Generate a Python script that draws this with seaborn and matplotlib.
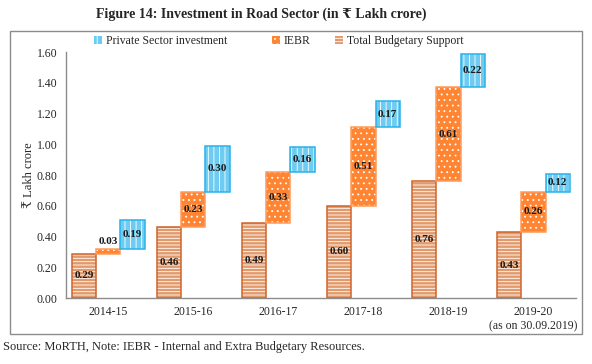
import numpy as np
import matplotlib
matplotlib.use("Agg")
import matplotlib.pyplot as plt
from matplotlib.patches import Patch, Rectangle
import seaborn as sns

years = ["2014-15", "2015-16", "2016-17", "2017-18", "2018-19", "2019-20\n(as on 30.09.2019)"]
tbs = [0.29, 0.46, 0.49, 0.60, 0.76, 0.43]
iebr = [0.03, 0.23, 0.33, 0.51, 0.61, 0.26]
private = [0.19, 0.30, 0.16, 0.17, 0.22, 0.12]
yticks = [0.0, 0.2, 0.4, 0.6, 0.8, 1.0, 1.2, 1.4, 1.6]

sns.set_style("white")
plt.rcParams["font.family"] = ["Liberation Serif", "DejaVu Serif", "DejaVu Sans"]
plt.rcParams["hatch.linewidth"] = 0.6

fig = plt.figure(figsize=(5.92, 3.64), dpi=100)
ax = fig.add_axes([0.111, 0.181, 0.862, 0.676])

tbs = np.array(tbs)
iebr = np.array(iebr)
private = np.array(private)
pos = np.arange(len(years))
w = 0.285

# (heights, bottoms, offset, fill, edge, hatch)
series = [
    (tbs, np.zeros(len(tbs)), -w, "#E29A6C", "#D0642A", "-----"),
    (iebr, tbs, 0.0, "#FF8533", "#FF9A5A", "..."),
    (private, tbs + iebr, w, "#6ECCF2", "#29B2EA", "|||"),
]

for h, b, off, fc, ec, hatch in series:
    # filled bars with white hatch, then a coloured outline on top
    sns.barplot(x=pos + off, y=h, bottom=b, native_scale=True, width=w,
                color=fc, saturation=1, edgecolor="white", linewidth=0,
                hatch=hatch, ax=ax)
    sns.barplot(x=pos + off, y=h, bottom=b, native_scale=True, width=w,
                color=ec, saturation=1, fill=False, linewidth=1.1, ax=ax)
    for x, hh, bb in zip(pos + off, h, b):
        if hh < 0.06:
            ty = bb + hh + 0.045
        else:
            ty = bb + hh / 2
        ax.text(x, ty, f"{hh:.2f}", ha="center", va="center",
                fontsize=8, fontweight="bold", color="#1a1a1a")

ax.set_xlim(-0.5, len(years) - 0.5)
ax.set_ylim(0, 1.6)
ax.set_xticks(pos)
ax.set_xticklabels(years, fontsize=8.5)
ax.set_yticks(yticks)
ax.set_yticklabels([f"{v:.2f}" for v in yticks], fontsize=8.5)
ax.set_xlabel("")
ax.set_ylabel("₹ Lakh crore", fontsize=9, labelpad=1)
ax.tick_params(length=0, pad=6)
for s in ["top", "right"]:
    ax.spines[s].set_visible(False)
for s in ["left", "bottom"]:
    ax.spines[s].set_color("#8c8c8c")
    ax.spines[s].set_linewidth(1)

# legend entries placed one by one, like the original
entries = [
    ("Private Sector investment", "#6ECCF2", "|||", 94),
    ("IEBR", "#FF8533", "...", 272),
    ("Total Budgetary Support", "#E29A6C", "-----", 335),
]
for label, fc, hatch, xpx in entries:
    hnd = Patch(facecolor=fc, edgecolor="white", hatch=hatch, lw=0)
    fig.legend([hnd], [label], loc="center left",
               bbox_to_anchor=(xpx / 592, 1 - 41 / 364), frameon=False,
               fontsize=8.5, handlelength=0.7, handleheight=0.7,
               handletextpad=0.3, borderpad=0, borderaxespad=0)

fig.text(0.442, 0.962, "Figure 14: Investment in Road Sector (in ₹ Lakh crore)",
         ha="center", va="center", fontsize=10, fontweight="bold")
fig.text(0.005, 0.047, "Source: MoRTH, Note: IEBR - Internal and Extra Budgetary Resources.",
         ha="left", va="center", fontsize=9)

fig.patches.append(Rectangle((10 / 592, 1 - 334 / 364), 572 / 592, 303 / 364,
                             transform=fig.transFigure, fill=False,
                             edgecolor="#8c8c8c", lw=1))

fig.savefig("out.png", dpi=100)
